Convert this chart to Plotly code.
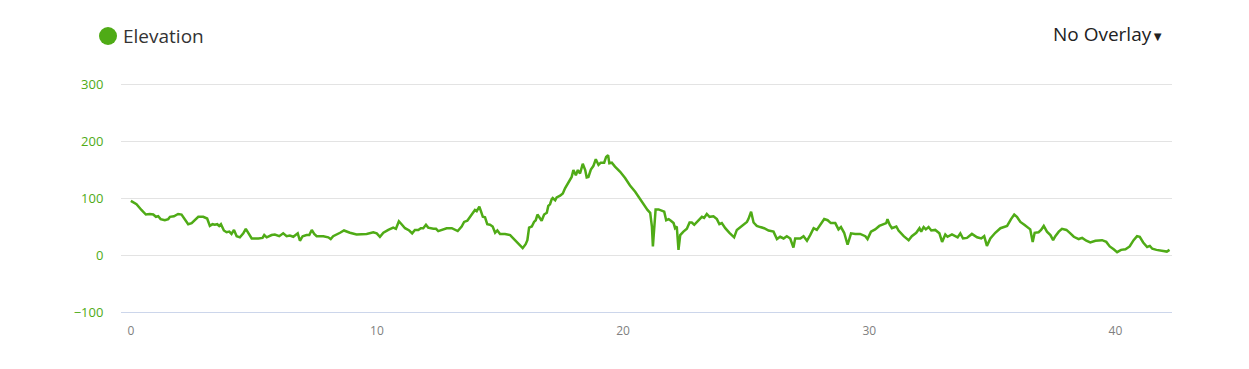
import plotly.graph_objects as go

distance_km = [
    0.0, 0.23, 0.43, 0.61, 0.77, 0.91, 1.02, 1.11, 1.21, 1.38, 1.52, 1.59, 1.75, 1.92, 2.06, 2.17,
    2.33, 2.47, 2.60, 2.74, 2.94, 3.10, 3.21, 3.32, 3.41, 3.51, 3.59, 3.66, 3.78, 3.89, 4.00, 4.09,
    4.19, 4.30, 4.43, 4.57, 4.67, 4.77, 4.91, 5.18, 5.35, 5.42, 5.52, 5.72, 5.85, 6.03, 6.19, 6.33,
    6.46, 6.60, 6.78, 6.87, 6.98, 7.14, 7.25, 7.35, 7.45, 7.55, 7.82, 8.02, 8.12, 8.22, 8.39, 8.50,
    8.66, 8.90, 9.17, 9.58, 9.85, 9.99, 10.12, 10.26, 10.46, 10.66, 10.77, 10.89, 11.00, 11.14,
    11.31, 11.43, 11.54, 11.68, 11.78, 11.88, 11.99, 12.08, 12.29, 12.40, 12.49, 12.63, 12.83,
    13.04, 13.17, 13.28, 13.44, 13.54, 13.67, 13.78, 13.89, 13.98, 14.05, 14.16, 14.23, 14.30,
    14.39, 14.48, 14.59, 14.70, 14.80, 14.89, 15.00, 15.20, 15.41, 15.54, 15.68, 15.81, 15.92,
    16.04, 16.11, 16.18, 16.29, 16.38, 16.45, 16.52, 16.60, 16.69, 16.79, 16.90, 16.96, 17.03,
    17.10, 17.14, 17.24, 17.30, 17.44, 17.55, 17.64, 17.78, 17.91, 17.98, 18.08, 18.16, 18.25,
    18.36, 18.46, 18.52, 18.59, 18.69, 18.79, 18.89, 19.00, 19.09, 19.23, 19.31, 19.39, 19.44,
    19.54, 19.67, 19.88, 20.08, 20.28, 20.49, 20.69, 20.85, 20.99, 21.10, 21.17, 21.21, 21.25,
    21.32, 21.44, 21.54, 21.67, 21.75, 21.85, 21.94, 22.05, 22.11, 22.18, 22.25, 22.32, 22.45,
    22.59, 22.70, 22.79, 22.89, 23.06, 23.20, 23.29, 23.40, 23.51, 23.67, 23.81, 23.91, 24.01,
    24.15, 24.32, 24.51, 24.62, 24.82, 25.03, 25.09, 25.20, 25.30, 25.43, 25.57, 25.73, 25.91,
    26.11, 26.25, 26.38, 26.52, 26.65, 26.79, 26.92, 26.99, 27.20, 27.33, 27.47, 27.60, 27.74,
    27.87, 28.01, 28.17, 28.31, 28.44, 28.62, 28.75, 28.85, 28.98, 29.12, 29.26, 29.43, 29.63,
    29.84, 29.93, 30.07, 30.24, 30.41, 30.58, 30.69, 30.74, 30.83, 30.92, 31.10, 31.19, 31.40,
    31.60, 31.73, 31.91, 32.04, 32.11, 32.21, 32.30, 32.41, 32.52, 32.68, 32.85, 32.96, 33.09,
    33.18, 33.36, 33.50, 33.59, 33.70, 33.81, 33.97, 34.17, 34.38, 34.55, 34.67, 34.78, 34.92,
    35.12, 35.33, 35.50, 35.60, 35.76, 35.89, 36.00, 36.14, 36.30, 36.48, 36.54, 36.64, 36.72,
    36.88, 36.98, 37.09, 37.22, 37.36, 37.47, 37.56, 37.70, 37.83, 38.01, 38.17, 38.31, 38.51,
    38.65, 38.82, 38.98, 39.19, 39.46, 39.63, 39.77, 39.93, 40.07, 40.23, 40.41, 40.58, 40.74,
    40.88, 40.99, 41.13, 41.29, 41.40, 41.50, 41.67, 41.91, 42.09, 42.20,
]

elevation_m = [
    95, 89, 79, 71, 72, 71, 67, 68, 63, 61, 63, 67, 68, 72, 71, 64,
    54, 56, 61, 67, 67, 64, 51, 54, 53, 54, 51, 54, 43, 40, 41, 37,
    44, 33, 31, 38, 46, 38, 29, 29, 30, 35, 31, 35, 36, 33, 38, 33,
    34, 32, 38, 25, 33, 35, 35, 44, 37, 33, 33, 31, 28, 33, 36, 39,
    43, 39, 36, 37, 40, 38, 32, 39, 44, 48, 46, 59, 54, 47,
    43, 38, 44, 44, 47, 47, 53, 48, 46, 46, 42, 44, 47,
    47, 45, 42, 50, 58, 60, 67, 73, 79, 77, 85, 76, 67,
    66, 54, 53, 50, 39, 43, 37, 37, 35, 29, 23, 16, 12,
    19, 26, 48, 50, 58, 61, 71, 66, 60, 71, 74, 86, 89,
    98, 100, 96, 101, 104, 108, 117, 127, 137, 149, 140, 149, 143,
    160, 149, 136, 137, 150, 156, 168, 158, 162, 162, 172, 175, 161,
    162, 155, 146, 135, 122, 111, 98, 88, 79, 74, 50, 15, 44,
    80, 80, 78, 76, 61, 63, 60, 56, 47, 50, 9, 35, 41,
    46, 57, 57, 53, 60, 67, 65, 72, 67, 68, 63, 54, 56,
    47, 39, 31, 44, 51, 58, 63, 76, 57, 51, 49, 47, 43,
    41, 28, 32, 29, 33, 29, 13, 29, 29, 33, 25, 35, 47,
    44, 54, 63, 61, 56, 56, 45, 49, 39, 18, 38, 37, 37,
    33, 28, 41, 45, 51, 54, 56, 63, 53, 47, 50, 43, 33,
    26, 33, 39, 47, 41, 49, 45, 49, 43, 44, 38, 23, 36,
    32, 36, 32, 31, 38, 29, 30, 37, 31, 29, 33, 16, 29,
    39, 47, 50, 51, 63, 71, 67, 58, 53, 47, 45, 23, 39,
    40, 44, 51, 41, 35, 26, 33, 41, 46, 44, 38, 32, 28,
    30, 25, 22, 25, 26, 23, 15, 10, 5, 9, 10, 15, 26,
    33, 32, 22, 14, 16, 11, 9, 8, 6, 9,
]

y_ticks = [-100, 0, 100, 200, 300]
x_ticks = [0, 10, 20, 30, 40]
series_name = "Elevation"
overlay_label = "No Overlay"

GREEN = "#4fab16"

# plot area: top 82px, bottom 312px; 57 px per 100 m
TOP_PX, BOT_PX = 82, 312
PX_PER_M = 0.57
y_top = 300 + (84 - TOP_PX) / PX_PER_M
PLOT_H = BOT_PX - TOP_PX

fig = go.Figure()
fig.add_trace(go.Scatter(
    x=distance_km, y=elevation_m, mode="lines", name=series_name,
    line=dict(color=GREEN, width=2.5, shape="linear"),
    hoverinfo="x+y", showlegend=False,
))

fig.update_layout(
    width=1249, height=369,
    margin=dict(l=121, r=77, t=TOP_PX, b=369 - BOT_PX),
    paper_bgcolor="white", plot_bgcolor="white",
    font=dict(family="Open Sans, Noto Sans, sans-serif"),
    xaxis=dict(
        range=[-0.4, 42.3], tickvals=x_ticks, ticktext=[str(v) for v in x_ticks],
        showgrid=False, zeroline=False,
        showline=True, linecolor="#ccd6eb", linewidth=1,
        ticks="outside", ticklen=8, tickcolor="rgba(0,0,0,0)",
        tickfont=dict(size=12, color="#808080", family="Open Sans, sans-serif"),
    ),
    yaxis=dict(
        range=[-100, y_top], tickvals=y_ticks,
        ticktext=["\u2212100", "0", "100", "200", "300"],
        showgrid=True, gridcolor="#e3e3e3", gridwidth=1,
        zeroline=False, showline=False,
        ticks="outside", ticklen=14, tickcolor="rgba(0,0,0,0)",
        tickfont=dict(size=13, color=GREEN, family="Open Sans, sans-serif"),
    ),
)

def py(pixel_y):
    return (BOT_PX - pixel_y) / PLOT_H

def px(pixel_x):
    return (pixel_x - 121) / 1051

# Legend-like header: green dot + label
fig.add_shape(
    type="circle", xref="paper", yref="paper",
    xsizemode="pixel", ysizemode="pixel",
    xanchor=px(108), yanchor=py(36),
    x0=-9, x1=9, y0=-9, y1=9,
    fillcolor=GREEN, line=dict(width=0),
)
fig.add_annotation(
    xref="paper", yref="paper", x=px(121), y=py(36),
    xanchor="left", yanchor="middle", showarrow=False,
    text=series_name, font=dict(size=19, color="#333333", family="Open Sans, sans-serif"),
)
fig.add_annotation(
    xref="paper", yref="paper", x=px(1166), y=py(34),
    xanchor="right", yanchor="middle", showarrow=False,
    text=overlay_label + "<span style='font-size:13px'>\u25bc</span>",
    font=dict(size=19, color="#222222", family="Open Sans, sans-serif"),
)

fig.write_html("out.html")
